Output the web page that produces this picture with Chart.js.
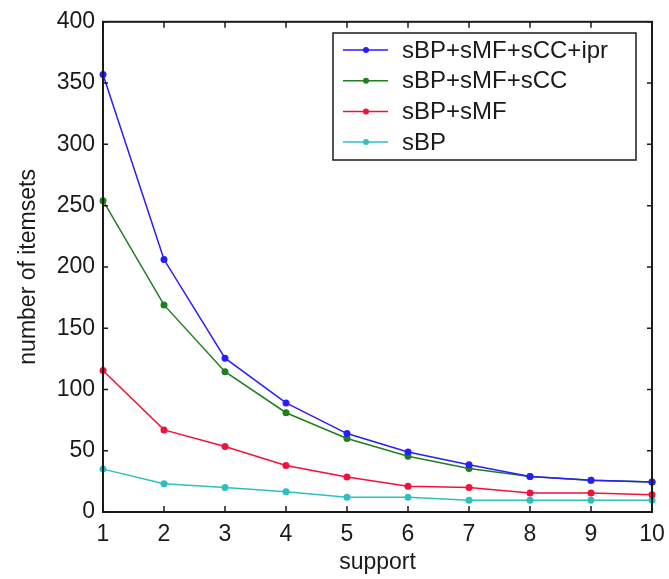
<!DOCTYPE html>
<html>
<head>
<meta charset="utf-8">
<script src="https://cdn.jsdelivr.net/npm/chart.js@4.4.1/dist/chart.umd.min.js"></script>
<style>
  html, body { margin: 0; padding: 0; background: #fff; }
  #wrap { width: 669px; height: 579px; }
</style>
</head>
<body>
<div id="wrap"><canvas id="chartCanvas"></canvas></div>
<script>
// data
const supportLevels = [1, 2, 3, 4, 5, 6, 7, 8, 9, 10];
const seriesNames = ['sBP+sMF+sCC+ipr', 'sBP+sMF+sCC', 'sBP+sMF', 'sBP'];
const withIpr = [357, 206, 125.5, 89, 64, 49, 38.5, 29, 26, 24.5];
const withScc = [254, 169, 114.5, 81, 60, 45.5, 35.5, 29, 26, 24.5];
const withSmf = [115.5, 67, 53.5, 38, 28.5, 21, 20, 15.5, 15.5, 14];
const sbpOnly = [35, 23, 20, 16.5, 12, 12, 9.5, 9.5, 9.5, 9.5];
const yTicks = [0, 50, 100, 150, 200, 250, 300, 350, 400];
const seriesColors = ['#2a1cff', '#1f7f1f', '#f5103a', '#2ec0c0'];

const FONT = "'Liberation Sans', Arial, sans-serif";
const INK = '#1a1a1a';

const seriesValues = [withIpr, withScc, withSmf, sbpOnly];

const datasets = seriesValues.map((vals, i) => ({
    label: seriesNames[i],
    data: supportLevels.map((s, k) => ({ x: s, y: vals[k] })),
    borderColor: seriesColors[i],
    backgroundColor: seriesColors[i],
    pointBackgroundColor: seriesColors[i],
    pointBorderWidth: 0,
    pointRadius: 3.5,
    borderWidth: 1.5,
    tension: 0,
    clip: false,
}));

// frame on all four sides, ticks pointing inwards (matlab style)
const framePlugin = {
    id: 'frame',
    afterDraw(chart) {
        const { ctx, chartArea: a, scales } = chart;
        ctx.save();
        ctx.strokeStyle = INK;
        ctx.lineWidth = 2;
        ctx.strokeRect(a.left, a.top, a.right - a.left, a.bottom - a.top);
        ctx.lineWidth = 1.5;
        ctx.beginPath();
        yTicks.forEach(v => {
            const y = scales.y.getPixelForValue(v);
            ctx.moveTo(a.left, y); ctx.lineTo(a.left + 5, y);
            ctx.moveTo(a.right, y); ctx.lineTo(a.right - 5, y);
        });
        supportLevels.forEach(s => {
            const x = scales.x.getPixelForValue(s);
            ctx.moveTo(x, a.bottom); ctx.lineTo(x, a.bottom - 6);
            ctx.moveTo(x, a.top); ctx.lineTo(x, a.top + 6);
        });
        ctx.stroke();
        ctx.restore();
    }
};

// boxed legend in the upper right
const legendBoxPlugin = {
    id: 'legendBox',
    afterDraw(chart) {
        const ctx = chart.ctx;
        const box = { x: 333, y: 33, w: 303, h: 127 };
        ctx.save();
        ctx.fillStyle = '#fff';
        ctx.fillRect(box.x, box.y, box.w, box.h);
        ctx.strokeStyle = INK;
        ctx.lineWidth = 1.5;
        ctx.strokeRect(box.x, box.y, box.w, box.h);
        ctx.font = '24px ' + FONT;
        ctx.textBaseline = 'middle';
        chart.data.datasets.forEach((ds, i) => {
            const y = 50 + i * 30.7;
            ctx.strokeStyle = ds.borderColor;
            ctx.lineWidth = 1.5;
            ctx.beginPath();
            ctx.moveTo(343, y); ctx.lineTo(388, y);
            ctx.stroke();
            ctx.fillStyle = ds.borderColor;
            ctx.beginPath();
            ctx.arc(366, y, 3, 0, Math.PI * 2);
            ctx.fill();
            ctx.fillStyle = INK;
            ctx.fillText(ds.label, 402, y + 1);
        });
        ctx.restore();
    }
};

const ctx = document.getElementById('chartCanvas').getContext('2d');
new Chart(ctx, {
    type: 'line',
    data: { datasets },
    plugins: [framePlugin, legendBoxPlugin],
    options: {
        responsive: true,
        maintainAspectRatio: false,
        animation: false,
        layout: { padding: { top: 18, right: 17, left: 0, bottom: 0 } },
        plugins: {
            legend: { display: false },
            tooltip: { enabled: false },
        },
        scales: {
            x: {
                type: 'linear',
                min: 1,
                max: 10,
                afterFit: s => {
                    s.height = 67;
                    // keep the plot edge fixed, the "10" label may overhang
                    s.paddingLeft = 0;
                    s.paddingRight = 0;
                },
                afterBuildTicks: s => { s.ticks = supportLevels.map(v => ({ value: v })); },
                grid: { display: false, drawTicks: false },
                border: { display: true, color: INK, width: 2 },
                ticks: { color: INK, font: { family: FONT, size: 23 }, padding: 9, maxRotation: 0 },
                title: {
                    display: true,
                    text: 'support',
                    color: INK,
                    font: { family: FONT, size: 23, lineHeight: 1 },
                    padding: { top: 0, bottom: 5 },
                },
            },
            y: {
                min: 0,
                max: 400,
                afterFit: s => { s.width = 103; },
                afterBuildTicks: s => { s.ticks = yTicks.map(v => ({ value: v })); },
                grid: { display: false, drawTicks: false },
                border: { display: true, color: INK, width: 2 },
                ticks: { color: INK, font: { family: FONT, size: 23 }, padding: 8 },
                title: {
                    display: true,
                    text: 'number of itemsets',
                    color: INK,
                    font: { family: FONT, size: 23, lineHeight: 1 },
                    padding: { top: 17, bottom: 0 },
                },
            },
        },
    },
});
</script>
</body>
</html>
